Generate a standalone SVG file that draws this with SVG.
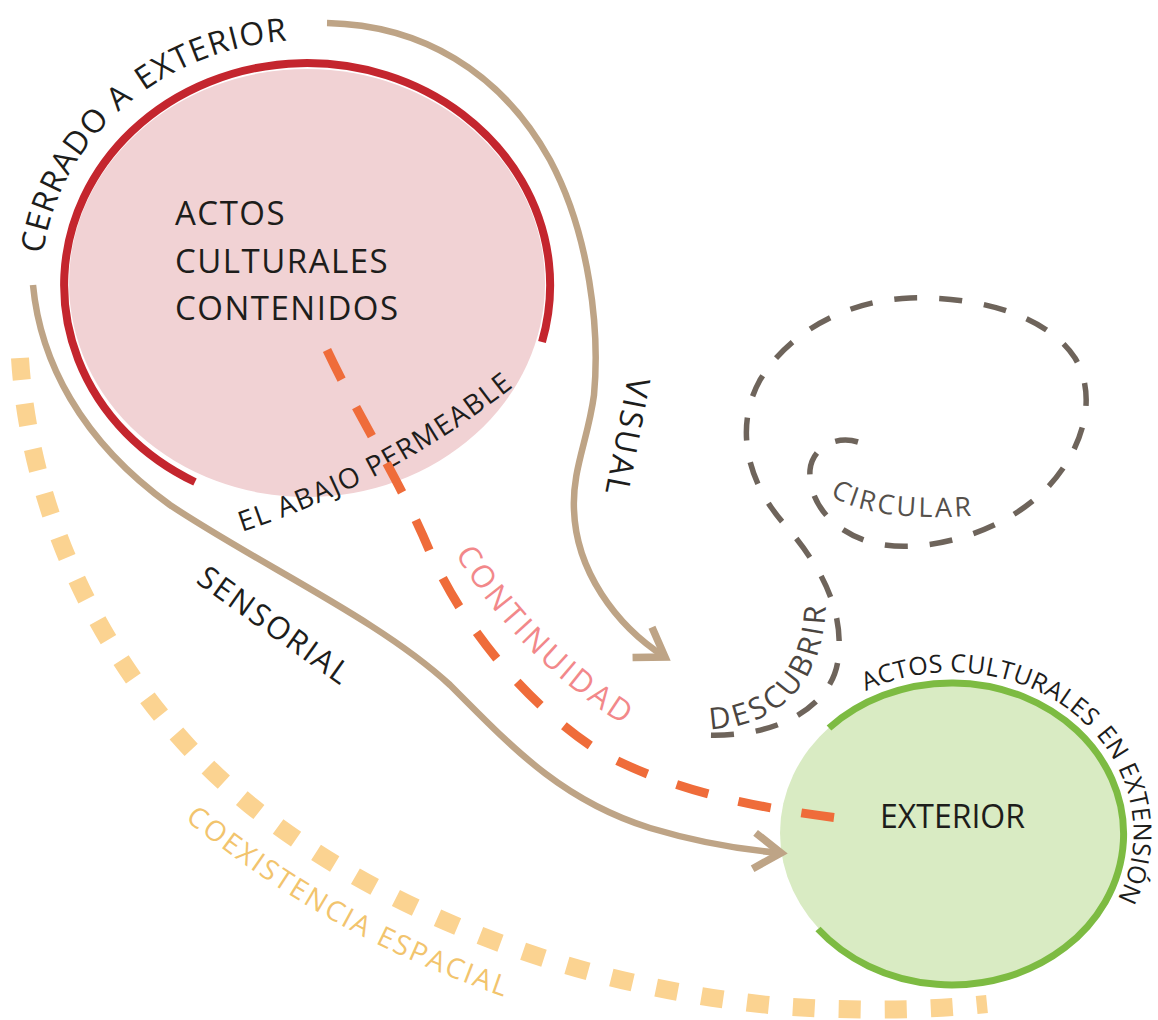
<svg xmlns="http://www.w3.org/2000/svg" width="1158" height="1020" viewBox="0 0 1158 1020">
<defs>
<style>
text { font-family: 'Open Sans','Liberation Sans',sans-serif; }
.dark { fill:#1d1d1b; }
.tan { fill:none; stroke:#bea486; stroke-width:6.5; }
.cont { fill:none; stroke:#ef6c3a; stroke-width:9; stroke-dasharray:33 31; }
.coex { fill:none; stroke:#fbd391; stroke-width:18; stroke-dasharray:22 24; }
.loop { fill:none; stroke:#6e645b; stroke-width:5.5; stroke-dasharray:23 22; }
</style>
<marker id="chev" markerUnits="userSpaceOnUse" viewBox="-40 -25 50 50" refX="0" refY="0" markerWidth="50" markerHeight="50" orient="auto">
<path d="M -27 -18 L 0 0 L -27 18" fill="none" stroke="#bea486" stroke-width="7.5"/>
</marker>
<path id="p-cerrado" d="M 43 254 A 266 244 0 0 1 307 40"/>
<path id="p-abajo" d="M 242 532 Q 400 480 524 378"/>
<path id="p-ext" d="M 866 691 A 182 161 0 0 1 1101 925"/>
<path id="p-desc" d="M 710 729 C 770 728 826 690 826 598"/>
<path id="p-circ" d="M 830 495 Q 870 522 972 516"/>
<path id="p-cont" d="M 455 554 Q 520 660 628 728"/>
<path id="p-coex" d="M 185 820 C 250 870 340 940 505 997"/>
</defs>
<rect width="1158" height="1020" fill="#ffffff"/>

<g id="node-actos-contenidos">
<ellipse cx="307" cy="283" rx="238" ry="214" fill="#f1d2d4"/>
<path d="M 542 342 A 243 222 0 1 0 195 482" fill="none" stroke="#c4262e" stroke-width="8"/>
<text class="dark" font-size="33" letter-spacing="1.5"><tspan x="175" y="225">ACTOS</tspan><tspan x="175" y="273">CULTURALES</tspan><tspan x="175" y="320">CONTENIDOS</tspan></text>
<text class="dark" font-size="32" letter-spacing="1.2"><textPath href="#p-cerrado">CERRADO A</textPath></text>
<text class="dark" font-size="32" letter-spacing="1.2"><textPath href="#p-cerrado" startOffset="197">EXTERIOR</textPath></text>
<text class="dark" font-size="28" letter-spacing="1.5"><textPath href="#p-abajo">EL ABAJO PERMEABLE</textPath></text>
</g>

<g id="node-exterior">
<ellipse cx="952" cy="833" rx="172" ry="151" fill="#d9ebc3"/>
<path d="M 829 728 A 172 151 0 1 1 818 929" fill="none" stroke="#7dbb42" stroke-width="7"/>
<text class="dark" x="880" y="828" font-size="32">EXTERIOR</text>
<text class="dark" font-size="25" letter-spacing="0.3"><textPath href="#p-ext">ACTOS CULTURALES</textPath></text>
<text class="dark" font-size="25" letter-spacing="0.3"><textPath href="#p-ext" startOffset="250">EN EXTENSIÓN</textPath></text>
</g>

<g id="connectors">
<path class="coex" d="M 20 358 C 30 520 110 690 250 805 C 400 925 600 990 780 1006 C 860 1012 930 1010 987 1004"/>
<text font-size="28" letter-spacing="2.3" fill="#f2c46d"><textPath href="#p-coex">COEXISTENCIA ESPACIAL</textPath></text>

<path class="tan" d="M 33 285 C 40 360 80 440 170 505 C 260 565 380 620 450 685 C 510 745 560 800 650 828 C 700 843 745 850 781 853" marker-end="url(#chev)"/>
<text class="dark" font-size="31" letter-spacing="2" transform="translate(195 582) rotate(35.5)">SENSORIAL</text>

<path class="tan" d="M 327 23 C 420 25 500 70 550 160 C 590 235 600 330 594 395 C 588 440 572 470 574 510 C 576 570 615 625 665 657" marker-end="url(#chev)"/>
<text class="dark" font-size="32" letter-spacing="2.5" transform="translate(628 376) rotate(101)">VISUAL</text>

<path class="cont" d="M 327 350 C 360 420 400 480 430 552 C 460 620 520 700 600 752 C 680 795 770 810 855 820"/>
<text font-size="31" letter-spacing="3" fill="#f2888a"><textPath href="#p-cont">CONTINUIDAD</textPath></text>

<path class="loop" d="M 858 442 C 835 435 812 448 810 470 C 808 500 830 530 870 542 C 920 556 1000 535 1045 490 C 1080 455 1100 400 1075 358 C 1045 312 970 296 910 298 C 850 300 790 330 760 380 C 735 425 745 480 785 525 C 820 565 845 610 838 660 C 832 705 780 738 705 735"/>
<text font-size="27" letter-spacing="2.8" fill="#55504b"><textPath href="#p-circ">CIRCULAR</textPath></text>
<text font-size="30" letter-spacing="3.5" fill="#4b4540"><textPath href="#p-desc">DESCUBRIR</textPath></text>
</g>
</svg>
